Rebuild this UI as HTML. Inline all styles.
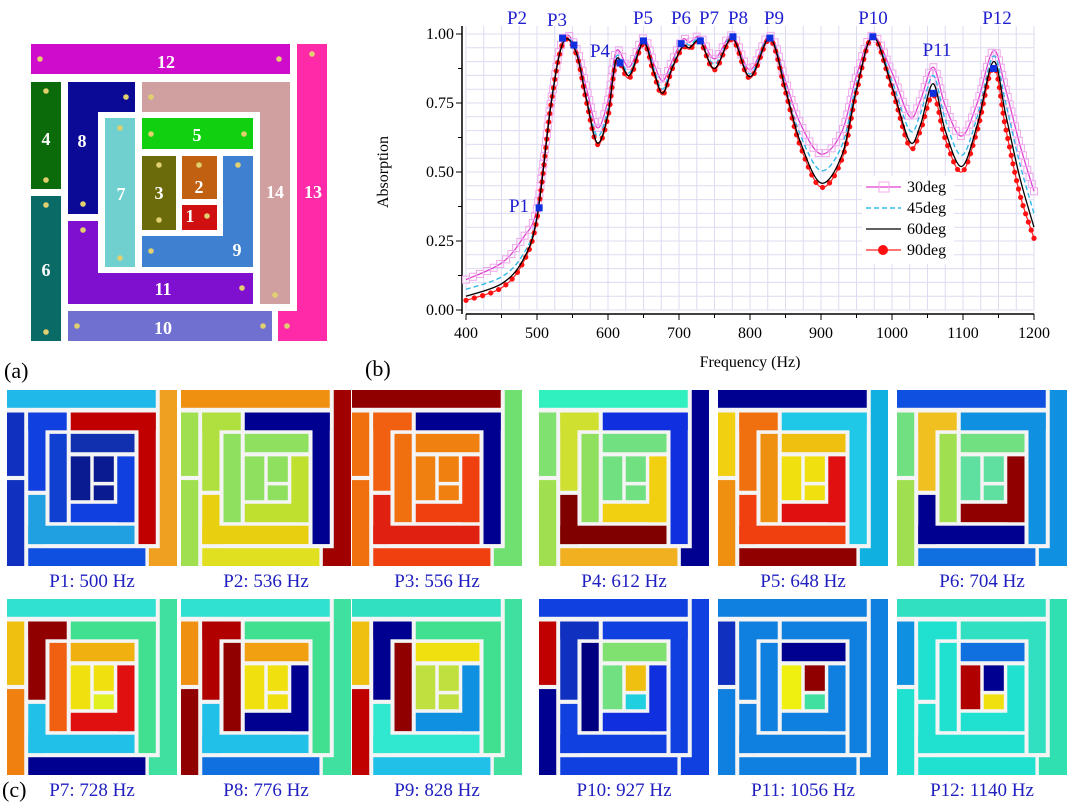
<!DOCTYPE html>
<html><head><meta charset="utf-8"><style>
html,body{margin:0;padding:0;background:#fff;}
svg{display:block;font-family:"Liberation Serif",serif;}
</style></head><body>
<svg id="fig" width="1080" height="810" viewBox="0 0 1080 810">
<g id="panelA"></g>
<g id="chart"></g>
<g id="tiles"></g>
<text x="4" y="378" font-size="22">(a)</text>
<text x="365" y="376" font-size="22">(b)</text>
<text x="2" y="797" font-size="22">(c)</text>
</svg>
<script>
const NS="http://www.w3.org/2000/svg";
function mk(tag,attrs,parent){const e=document.createElementNS(NS,tag);for(const k in attrs)e.setAttribute(k,attrs[k]);parent.appendChild(e);return e;}

// ---------- data ----------
const freqs=[400,450,480,500,520,537,555,570,585,600,612,630,650,665,677,690,705,715,730,750,775,800,828,850,870,900,930,950,973,1000,1025,1040,1058,1075,1098,1120,1143,1160,1180,1200];
const deg30=[0.11,0.17,0.26,0.37,0.76,0.985,0.95,0.80,0.66,0.76,0.94,0.88,0.985,0.89,0.83,0.90,0.98,0.97,0.99,0.91,0.995,0.87,0.995,0.83,0.68,0.565,0.65,0.85,0.995,0.86,0.70,0.76,0.88,0.74,0.63,0.75,0.94,0.80,0.60,0.43];
const deg45=[0.075,0.12,0.20,0.34,0.755,0.975,0.94,0.77,0.63,0.73,0.92,0.86,0.975,0.87,0.80,0.885,0.965,0.96,0.98,0.89,0.99,0.855,0.99,0.81,0.64,0.505,0.60,0.82,0.99,0.83,0.65,0.71,0.85,0.69,0.56,0.70,0.92,0.75,0.53,0.35];
const deg60=[0.05,0.095,0.18,0.335,0.75,0.97,0.935,0.76,0.605,0.71,0.91,0.85,0.97,0.86,0.785,0.875,0.955,0.95,0.975,0.875,0.985,0.845,0.985,0.80,0.615,0.46,0.565,0.80,0.99,0.81,0.61,0.67,0.82,0.65,0.52,0.67,0.90,0.71,0.48,0.30];
const deg90=[0.035,0.08,0.17,0.33,0.75,0.97,0.93,0.75,0.60,0.70,0.90,0.84,0.965,0.85,0.78,0.87,0.95,0.945,0.97,0.87,0.98,0.84,0.98,0.79,0.60,0.445,0.55,0.79,0.99,0.80,0.59,0.65,0.78,0.62,0.50,0.65,0.88,0.66,0.42,0.26];
const peakNames=["P1","P2","P3","P4","P5","P6","P7","P8","P9","P10","P11","P12"];
const peakFreqs=[503,536,552,617,650,703,730,776,828,973,1058,1143];
const peakVals=[0.37,0.985,0.96,0.895,0.975,0.965,0.975,0.99,0.985,0.99,0.785,0.875];
const xTicks=[400,500,600,700,800,900,1000,1100,1200];
const yTicks=[0,0.25,0.5,0.75,1.0];
const yTickLabels=["0.00","0.25","0.50","0.75","1.00"];
const tileLabels=["P1: 500 Hz","P2: 536 Hz","P3: 556 Hz","P4: 612 Hz","P5: 648 Hz","P6: 704 Hz","P7: 728 Hz","P8: 776 Hz","P9: 828 Hz","P10: 927 Hz","P11: 1056 Hz","P12: 1140 Hz"];

// ---------- chart ----------
const chart=document.getElementById('chart');
const X0=466,X1=1034,Y0=310,Y1=34;
const sx=f=>X0+(f-400)/800*(X1-X0);
const sy=v=>Y0-v*(Y0-Y1);
for(let f=400;f<=1200;f+=25){const l=mk('line',{x1:sx(f),x2:sx(f),y1:Y1-8,y2:Y0,stroke:'#dcdcf2','stroke-width':1},chart);
}
for(let v=0;v<=1.0001;v+=0.05){const l=mk('line',{x1:X0,x2:X1,y1:sy(v),y2:sy(v),stroke:'#dcdcf2','stroke-width':1},chart);
}
const ax=mk('path',{d:`M${X0-4} ${Y1-8}V${Y0+4}M${X0} ${Y0+4}H${X1}`,stroke:'#000','stroke-width':1.5,fill:'none'},chart);

xTicks.forEach(f=>{mk('line',{x1:sx(f),x2:sx(f),y1:Y0+4,y2:Y0+10,stroke:'#000'},chart);
const t=mk('text',{x:sx(f),y:Y0+28,'font-size':16,'text-anchor':'middle'},chart);t.textContent=f;
});
for(let f=450;f<1200;f+=100)mk('line',{x1:sx(f),x2:sx(f),y1:Y0+4,y2:Y0+8,stroke:'#000'},chart);
yTicks.forEach((v,i)=>{mk('line',{x1:X0-10,x2:X0-4,y1:sy(v),y2:sy(v),stroke:'#000'},chart);
const t=mk('text',{x:X0-12,y:sy(v)+5,'font-size':16,'text-anchor':'end'},chart);t.textContent=yTickLabels[i];
});
for(let v=0.125;v<1;v+=0.25)mk('line',{x1:X0-8,x2:X0-4,y1:sy(v),y2:sy(v),stroke:'#000'},chart);
let t=mk('text',{x:750,y:367,'font-size':16,'text-anchor':'middle'},chart);t.textContent='Frequency (Hz)';

t=mk('text',{x:0,y:0,'font-size':16,'text-anchor':'middle',transform:'translate(388,172) rotate(-90)'},chart);t.textContent='Absorption';


function smooth(vals){const p=freqs.map((f,i)=>[sx(f),sy(vals[i])]);let d=`M${p[0][0]} ${p[0][1]}`;
for(let i=0;i<p.length-1;i++){const a=p[Math.max(0,i-1)],b=p[i],c=p[i+1],e=p[Math.min(p.length-1,i+2)];
d+=`C${b[0]+(c[0]-a[0])/6} ${b[1]+(c[1]-a[1])/6} ${c[0]-(e[0]-b[0])/6} ${c[1]-(e[1]-b[1])/6} ${c[0]} ${c[1]}`;}return d;}
function markersAlong(path,n,draw){const L=path.getTotalLength();for(let i=0;i<=n;i++){const q=path.getPointAtLength(L*i/n);draw(q.x,q.y);}}

const p30=mk('path',{d:smooth(deg30),stroke:'#e040d0','stroke-width':1.3,fill:'none'},chart);

markersAlong(p30,200,(x,y)=>mk('rect',{x:x-3.5,y:y-3.5,width:7,height:7,fill:'none',stroke:'#f0a8ec','stroke-width':1},chart));
const p45=mk('path',{d:smooth(deg45),stroke:'#30b8e8','stroke-width':1.4,fill:'none','stroke-dasharray':'5 3'},chart);

const p90=mk('path',{d:smooth(deg90),stroke:'#ff2020','stroke-width':1.2,fill:'none'},chart);

markersAlong(p90,200,(x,y)=>mk('circle',{cx:x,cy:y,r:2.6,fill:'#ff1010'},chart));
const p60=mk('path',{d:smooth(deg60),stroke:'#000','stroke-width':1.3,fill:'none'},chart);


const lblPos=[[519,212],[517,24],[557,26],[600,57],[643,24],[681,24],[709,24],[738,24],[774,24],[873,24],[937,56],[997,24]];
peakFreqs.forEach((f,i)=>{const r=mk('rect',{x:sx(f)-3.5,y:sy(peakVals[i])-3.5,width:7,height:7,fill:'#1030e0'},chart);

const tt=mk('text',{x:lblPos[i][0],y:lblPos[i][1],'font-size':19,fill:'#2020d0','text-anchor':'middle'},chart);tt.textContent=peakNames[i];
});

const lg=mk('g',{},chart);
mk('rect',{x:862,y:176,width:92,height:88,fill:'#fff'},lg);
const legNames=['30deg','45deg','60deg','90deg'];
legNames.forEach((n,i)=>{const y=187+i*21;
const g=mk('g',{},lg);
if(i==0){mk('line',{x1:866,x2:901,y1:y,y2:y,stroke:'#e040d0','stroke-width':1.3},g);mk('rect',{x:879,y:y-5,width:10,height:10,fill:'none',stroke:'#f0a8ec'},g);}
if(i==1)mk('line',{x1:866,x2:901,y1:y,y2:y,stroke:'#30b8e8','stroke-width':1.4,'stroke-dasharray':'5 3'},g);
if(i==2)mk('line',{x1:866,x2:901,y1:y,y2:y,stroke:'#000','stroke-width':1.3},g);
if(i==3){mk('line',{x1:866,x2:901,y1:y,y2:y,stroke:'#ff2020','stroke-width':1.2},g);mk('circle',{cx:883,cy:y,r:5,fill:'#ff1010'},g);}
const tx=mk('text',{x:907,y:y+5,'font-size':16},g);tx.textContent=n;});

// ---------- panel a geometry ----------
const pieces={
12:[[31,44,259,30]],
13:[[297,44,30,297],[278,311,49,30]],
4:[[31,82,30,107]],
6:[[31,196,30,145]],
8:[[68,82,67,30],[68,82,30,132]],
14:[[142,82,148,30],[260,82,30,222]],
7:[[105,118,30,149]],
5:[[142,118,111,31]],
3:[[142,156,34,74]],
2:[[182,156,35,43]],
1:[[182,205,35,25]],
9:[[223,156,30,111],[142,236,111,31]],
11:[[68,221,30,83],[68,273,185,31]],
10:[[68,311,204,30]]};
const aColors={12:'#d00ccc',13:'#ff2aa8',4:'#0b6b0b',6:'#0a6a66',8:'#0a0a96',14:'#d0a0a0',7:'#70d0d0',5:'#10d010',3:'#6b6b0b',2:'#c06010',1:'#d01010',9:'#4080d0',11:'#8010d0',10:'#7070d0'};
const aLabel={12:[166,62],13:[313,192],4:[46,139],6:[46,270],8:[82,141],14:[275,192],7:[121,194],5:[197,135],3:[159,193],2:[199,187],1:[190,216],9:[237,250],11:[163,289],10:[163,328]};
const aDots=[[40,59],[279,59],[312,54],[46,91],[46,180],[46,205],[46,332],[126,97],[83,204],[151,97],[120,128],[120,258],[151,134],[244,134],[159,165],[159,220],[199,165],[207,216],[238,165],[151,251],[83,230],[242,288],[275,295],[77,326],[263,326],[287,326]];
const pa=document.getElementById('panelA');
for(const k in pieces){const g=mk('g',{},pa);
pieces[k].forEach(r=>mk('rect',{x:r[0],y:r[1],width:r[2],height:r[3],fill:aColors[k]},g));}
aDots.forEach(d=>mk('circle',{cx:d[0],cy:d[1],r:2.8,fill:'#e0d070'},pa));
for(const k in aLabel){const tx=mk('text',{x:aLabel[k][0],y:aLabel[k][1]+6,'font-size':18,'font-weight':'bold',fill:'#fff','text-anchor':'middle'},pa);tx.textContent=k;
}

// ---------- tiles ----------
const tileColors=[
{12:'#20b8e8',13:'#f0a020',4:'#1030c0',6:'#1030c0',8:'#1040e0',14:'#c00000',7:'#1040d0',5:'#1030b0',3:'#0a1a90',2:'#0a1a90',1:'#0a1a90',9:'#1040e0',11:'#20a0e0',10:'#1050e0'},
{12:'#f09010',13:'#a00000',4:'#a0e050',6:'#a0e050',8:'#b0e040',14:'#000090',7:'#90e060',5:'#90e060',3:'#90e060',2:'#90e060',1:'#90e060',9:'#c0e030',11:'#e8d010',10:'#e0e020'},
{12:'#900000',13:'#70e070',4:'#f07010',6:'#f07010',8:'#f06010',14:'#000090',7:'#f07010',5:'#f08010',3:'#f08010',2:'#f08010',1:'#f08010',9:'#f04010',11:'#e02010',10:'#f04010'},
{12:'#30f0c0',13:'#000090',4:'#80e070',6:'#a0e050',8:'#d0e030',14:'#1030e0',7:'#90e060',5:'#70e080',3:'#70e080',2:'#70e080',1:'#70e080',9:'#f0d010',11:'#800000',10:'#f0b020'},
{12:'#000090',13:'#10b0e0',4:'#f0d010',6:'#f09010',8:'#f07010',14:'#20c8e8',7:'#f09010',5:'#f0c010',3:'#f0e010',2:'#f0e010',1:'#f0e010',9:'#e01010',11:'#f04010',10:'#900000'},
{12:'#1050e0',13:'#1090e0',4:'#70e080',6:'#a0e050',8:'#f0c020',14:'#1090e0',7:'#a0e050',5:'#70e080',3:'#60e0a0',2:'#60e0a0',1:'#60e0a0',9:'#900000',11:'#000090',10:'#1070e0'},
{12:'#30e0d0',13:'#40e0a0',4:'#f0c010',6:'#f08010',8:'#900000',14:'#40e090',7:'#f06010',5:'#f0b010',3:'#f0e010',2:'#f0e010',1:'#e0f020',9:'#e01010',11:'#20c0e8',10:'#000090'},
{12:'#30e0d0',13:'#40e0a0',4:'#f09010',6:'#900000',8:'#b00000',14:'#40e090',7:'#900000',5:'#f0a010',3:'#f0e010',2:'#f0e010',1:'#f0e010',9:'#000090',11:'#20c0e8',10:'#1070e0'},
{12:'#30e0c0',13:'#40e0a0',4:'#f0c010',6:'#c00000',8:'#000090',14:'#40e090',7:'#900000',5:'#f0e010',3:'#c0e040',2:'#c0e040',1:'#c0e040',9:'#1090e0',11:'#30e8d0',10:'#20c0e8'},
{12:'#1040e0',13:'#1040e0',4:'#c00000',6:'#000090',8:'#1030c0',14:'#1040e0',7:'#000080',5:'#80e070',3:'#70e080',2:'#f0c010',1:'#20d0e0',9:'#1030e0',11:'#1040e0',10:'#1040e0'},
{12:'#1080e0',13:'#1080e0',4:'#1030c0',6:'#1080e0',8:'#1080e0',14:'#1080e0',7:'#1080e0',5:'#000090',3:'#f0f010',2:'#900000',1:'#40e0a0',9:'#1080e0',11:'#1080e0',10:'#1080e0'},
{12:'#30e0c0',13:'#30e0b0',4:'#1090e0',6:'#20e0d0',8:'#20e0d0',14:'#30e0c0',7:'#20e0d0',5:'#1070e0',3:'#b00000',2:'#000090',1:'#f0e010',9:'#20e0d0',11:'#20e0d0',10:'#20e0d0'}];
const colX=[7,181,352,539,718,897];
const rowY=[390,599];
const tg=document.getElementById('tiles');
tileLabels.forEach((lab,i)=>{const tx0=colX[i%6],ty0=rowY[Math.floor(i/6)],W=170,H=176;
const g=mk('g',{},tg);
mk('rect',{x:tx0,y:ty0,width:W,height:H,fill:'#f4f4f4'},g);
const s=W/296,sv=H/297;
for(const k in pieces)pieces[k].forEach(r=>mk('rect',{x:tx0+(r[0]-31)*s,y:ty0+(r[1]-44)*sv,width:r[2]*s,height:r[3]*sv,fill:tileColors[i][k]},g));
const tt=mk('text',{x:tx0+W/2,y:ty0+H+21,'font-size':19,fill:'#2020c0','text-anchor':'middle'},tg);tt.textContent=lab;
});
</script>
</body></html>
